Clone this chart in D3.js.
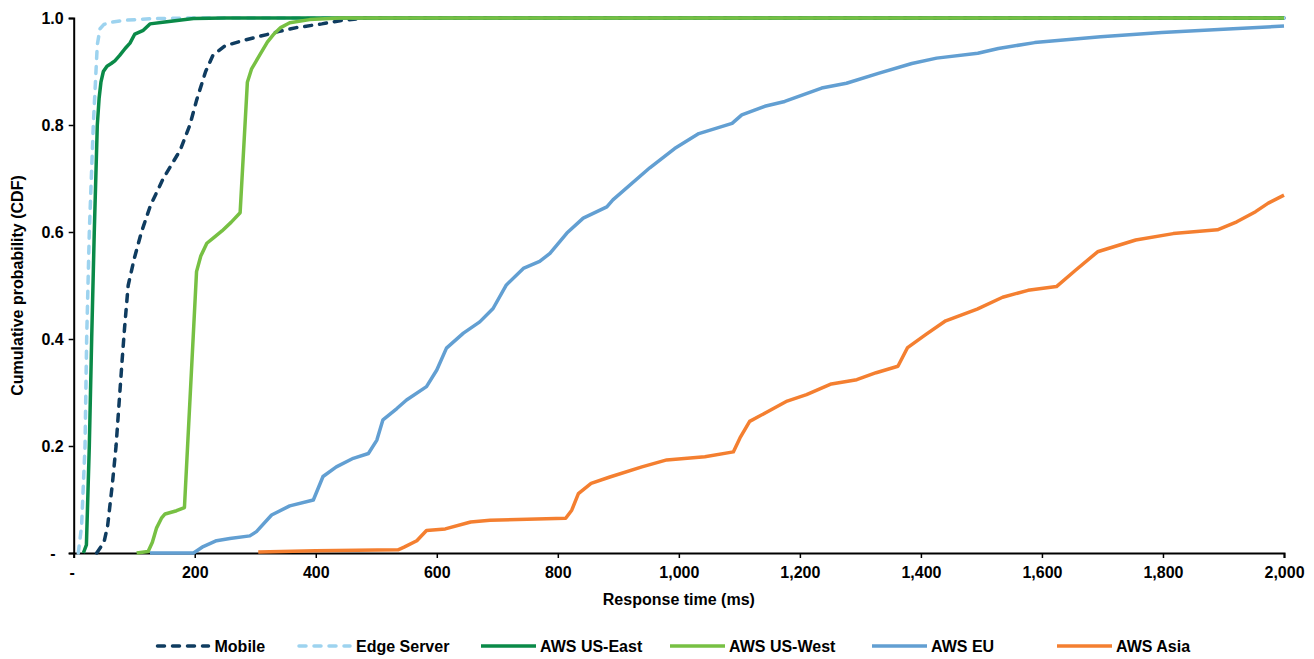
<!DOCTYPE html>
<html>
<head>
<meta charset="utf-8">
<script src="https://cdn.jsdelivr.net/npm/d3@7"></script>
<style>
  body { margin: 0; background: #fff; }
  svg text { font-family: "Liberation Sans", Arial, sans-serif; font-weight: bold; fill: #000; }
</style>
</head>
<body>
<div id="chart"></div>
<script>
// CDF points [response time ms, cumulative probability]
const mobile = [[38,0],[50,0.02],[56,0.05],[64,0.13],[70,0.2],[75,0.28],[80,0.36],[84,0.42],[90,0.5],[100,0.55],[112,0.6],[127,0.65],[148,0.7],[176,0.753],[192,0.8],[203,0.846],[218,0.9],[230,0.93],[250,0.948],[280,0.958],[319,0.969],[340,0.975],[368,0.982],[410,0.989],[440,0.995],[480,1],[2000,1]];
const edge = [[7.6,0],[13,0.05],[18.7,0.2],[21.4,0.4],[25.8,0.6],[32.4,0.8],[36.8,0.9],[39,0.95],[43.5,0.98],[50,0.988],[60,0.992],[88,0.996],[130,0.999],[200,1],[2000,1]];
const usEast = [[16,0],[21,0.015],[25.8,0.2],[29.7,0.4],[34,0.6],[39,0.8],[42,0.85],[45,0.88],[49,0.9],[55,0.91],[62,0.915],[68,0.92],[76,0.93],[85,0.943],[93,0.953],[101,0.97],[115,0.977],[126,0.989],[154,0.993],[198,0.999],[250,1],[2000,1]];
const usWest = [[104,0],[123,0.003],[130,0.02],[137,0.047],[145,0.065],[151,0.073],[170,0.079],[183,0.085],[203,0.526],[210,0.555],[220,0.579],[232,0.59],[245,0.602],[260,0.618],[275,0.636],[287,0.88],[294,0.905],[308,0.932],[320,0.955],[330,0.969],[342,0.982],[357,0.991],[390,0.997],[440,1],[2000,1]];
const awsEu = [[126,0],[198,0],[214,0.012],[236,0.023],[258,0.027],[291,0.032],[302,0.04],[327,0.071],[357,0.088],[396,0.099],[412,0.143],[434,0.161],[462,0.177],[487,0.186],[501,0.211],[511,0.249],[534,0.27],[550,0.286],[583,0.311],[600,0.342],[616,0.383],[644,0.411],[671,0.432],[693,0.457],[715,0.501],[743,0.532],[770,0.545],[787,0.56],[815,0.598],[842,0.626],[881,0.647],[891,0.66],[952,0.72],[993,0.756],[1033,0.784],[1088,0.803],[1104,0.819],[1142,0.835],[1175,0.844],[1236,0.869],[1277,0.878],[1331,0.897],[1385,0.915],[1426,0.925],[1494,0.934],[1528,0.943],[1588,0.954],[1697,0.965],[1798,0.973],[1900,0.979],[2000,0.985]];
const awsAsia = [[305,0.002],[400,0.004],[536,0.006],[546,0.011],[567,0.023],[583,0.042],[614,0.045],[656,0.058],[688,0.061],[813,0.065],[823,0.08],[834,0.111],[855,0.13],[886,0.142],[939,0.161],[980,0.174],[1043,0.18],[1090,0.189],[1101,0.215],[1117,0.246],[1148,0.265],[1179,0.284],[1211,0.296],[1252,0.316],[1294,0.324],[1326,0.337],[1362,0.349],[1378,0.384],[1409,0.409],[1441,0.434],[1493,0.456],[1535,0.478],[1577,0.491],[1624,0.498],[1655,0.528],[1692,0.563],[1755,0.585],[1817,0.597],[1890,0.604],[1922,0.619],[1953,0.638],[1974,0.654],[2000,0.669]];

const seriesNames = ["Mobile", "Edge Server", "AWS US-East", "AWS US-West", "AWS EU", "AWS Asia"];
const xTicks = [0, 200, 400, 600, 800, 1000, 1200, 1400, 1600, 1800, 2000];
const yTicks = [0, 0.2, 0.4, 0.6, 0.8, 1.0];

const series = [
  { name: seriesNames[0], values: mobile, color: "#0f3c60", dash: "7,8" },
  { name: seriesNames[1], values: edge, color: "#9dd3ef", dash: "7,8" },
  { name: seriesNames[2], values: usEast, color: "#0a8a48", dash: null },
  { name: seriesNames[3], values: usWest, color: "#77c043", dash: null },
  { name: seriesNames[4], values: awsEu, color: "#629fd2", dash: null },
  { name: seriesNames[5], values: awsAsia, color: "#f47f30", dash: null }
];

const W = 1314, H = 659;
const plot = { left: 73.7, right: 1284, top: 18, bottom: 553 };
// legend entry start positions (px), as laid out in the original
const legendX = [155.5, 297, 481, 670, 872, 1057];

const svg = d3.select("#chart")
  .append("svg")
  .attr("width", W)
  .attr("height", H);

const x = d3.scaleLinear().domain([0, 2000]).range([plot.left, plot.right]);
const y = d3.scaleLinear().domain([0, 1]).range([plot.bottom, plot.top]);

// axes
const fmtX = d3.format(",");
const xAxis = svg.append("g")
  .attr("transform", `translate(0,${plot.bottom})`)
  .call(d3.axisBottom(x).tickValues(xTicks).tickSize(5).tickPadding(9)
    .tickFormat(d => d === 0 ? "-" : fmtX(d)));

const yAxis = svg.append("g")
  .attr("transform", `translate(${plot.left},0)`)
  .call(d3.axisLeft(y).tickValues(yTicks).tickSize(5).tickPadding(5)
    .tickFormat(d => d === 0 ? "-" : d.toFixed(1)));

[xAxis, yAxis].forEach(g => {
  g.select(".domain").attr("stroke", "#000").attr("stroke-width", 2);
  g.selectAll(".tick line").attr("stroke", "#000").attr("stroke-width", 1.5);
  g.selectAll(".tick text").style("font-size", "16px");
});
yAxis.selectAll(".tick text").filter(d => d === 0).attr("dx", -8);
xAxis.selectAll(".tick text").filter(d => d === 0).attr("dx", -2);

// lines
const line = d3.line().x(d => x(d[0])).y(d => y(d[1]));

svg.selectAll(".series")
  .data(series)
  .enter()
  .append("path")
    .attr("class", "series")
    .attr("d", d => line(d.values))
    .attr("fill", "none")
    .attr("stroke", d => d.color)
    .attr("stroke-width", 3.5)
    .attr("stroke-linejoin", "round")
    .attr("stroke-linecap", d => d.dash ? "round" : "butt")
    .attr("stroke-dasharray", d => d.dash);

// axis titles
svg.append("text")
  .attr("x", (plot.left + plot.right) / 2)
  .attr("y", 605)
  .attr("text-anchor", "middle")
  .style("font-size", "16px")
  .text("Response time (ms)");

svg.append("text")
  .attr("transform", `translate(23,${(plot.top + plot.bottom) / 2}) rotate(-90)`)
  .attr("text-anchor", "middle")
  .style("font-size", "16px")
  .text("Cumulative probability (CDF)");

// legend
const legend = svg.append("g");
series.forEach((s, i) => {
  const lx = legendX[i];
  legend.append("line")
    .attr("x1", lx + (s.dash ? 2 : 0)).attr("x2", lx + 55 - (s.dash ? 2 : 0))
    .attr("y1", 646).attr("y2", 646)
    .attr("stroke", s.color)
    .attr("stroke-width", 3.5)
    .attr("stroke-linecap", s.dash ? "round" : "butt")
    .attr("stroke-dasharray", s.dash);
  legend.append("text")
    .attr("x", lx + 59)
    .attr("y", 651.5)
    .style("font-size", "16px")
    .text(s.name);
});
</script>
</body>
</html>
